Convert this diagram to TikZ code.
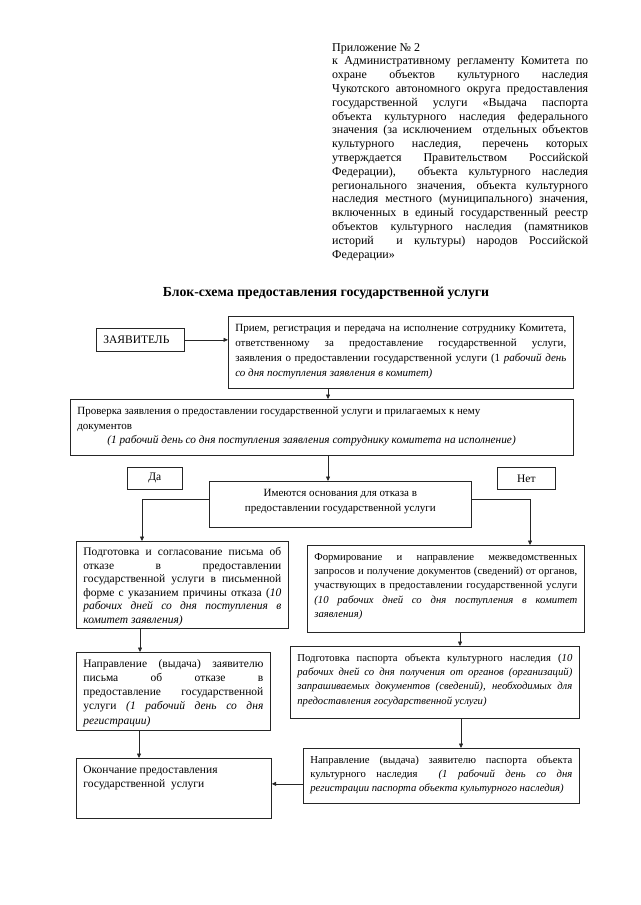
\documentclass[tikz,border=0pt]{standalone}
\usepackage{fontspec}
\setmainfont{Liberation Serif}
\usetikzlibrary{arrows.meta,calc}
% width, height, font size, baselineskip, text
\newcommand\bxt[5]{\parbox[c][#2pt][t]{#1pt}{\fontsize{#3}{#4}\selectfont\hyphenpenalty=10000\strut #5}}
\newcommand\jl[1]{\makebox[\linewidth][s]{#1}\par}
\tikzset{
  box/.style={draw=black!85, line width=0.7pt, inner xsep=7pt, inner ysep=5pt, anchor=north west},
  tag/.style={draw=black!85, line width=0.7pt, inner sep=0pt, anchor=north west, font=\fontsize{11.5}{13}\selectfont},
  arr/.style={draw=black!85, line width=0.7pt, -{Triangle[length=4.5pt,width=4pt]}}
}
\begin{document}
\begin{tikzpicture}[x=1pt,y=-1pt]
\useasboundingbox (0,0) rectangle (640,905);
\fill[white] (0,0) rectangle (640,905);
% header
\node[anchor=north west, inner sep=0pt] (hdr) at (332,43) {\parbox[t]{256pt}{\fontsize{12}{13.8}\selectfont\hyphenpenalty=10000
Приложение № 2\\
к Административному регламенту Комитета по\linebreak
охране объектов культурного наследия\linebreak
Чукотского автономного округа предоставления\linebreak
государственной услуги «Выдача паспорта\linebreak
объекта культурного наследия федерального\linebreak
значения (за исключением\ \ отдельных объектов\linebreak
культурного наследия, перечень которых\linebreak
утверждается Правительством Российской\linebreak
Федерации),\ \ объекта культурного наследия\linebreak
регионального значения, объекта культурного\linebreak
наследия местного (муниципального) значения,\linebreak
включенных в единый государственный реестр\linebreak
объектов культурного наследия (памятников\linebreak
историй\ \ и культуры) народов Российской\linebreak
Федерации»}};
% title
\node[inner sep=0pt, font=\fontsize{13.8}{16}\selectfont\bfseries] (title) at (326,293) {Блок-схема предоставления государственной услуги};
% boxes
\node[box] (b0) at (96,328) {\bxt{74}{13}{11.5}{14}{ЗАЯВИТЕЛЬ}};
\node[box] (b1) at (228,316) {\bxt{331}{62}{11}{15}{%
\jl{Прием, регистрация и передача на исполнение сотруднику Комитета,}
\jl{ответственному за предоставление государственной услуги,}
\jl{заявления о предоставлении государственной услуги (1 \textit{рабочий день}}
\textit{со дня поступления заявления в комитет)}}};
\node[box] (b2) at (70,399) {\bxt{489}{46}{11}{14.5}{\raggedright Проверка заявления о предоставлении государственной услуги и прилагаемых к нему\\
документов\\
\hspace*{30pt}{\fontsize{11.3}{14.5}\selectfont\textit{(1 рабочий день со дня поступления заявления сотруднику комитета на исполнение)}}}};
\node[tag, minimum width=55pt, minimum height=22pt] (da) at (127,467) {Да};
\node[tag, minimum width=58pt, minimum height=22pt] (net) at (497,467) {Нет};
\node[box] (dec) at (209,481) {\bxt{248}{36}{11}{14.5}{\centering Имеются основания для отказа в\\предоставлении государственной услуги}};
\node[box] (b3) at (76,541) {\bxt{198}{77}{11.5}{13.5}{%
\jl{Подготовка и согласование письма об}
\jl{отказе в предоставлении}
\jl{государственной услуги в письменной}
\jl{форме с указанием причины отказа (\textit{10}}
\jl{\textit{рабочих дней со дня поступления в}}
\textit{комитет заявления)}}};
\node[box] (b4) at (307,545) {\bxt{263}{77}{10.7}{14.3}{%
\jl{Формирование и направление межведомственных}
\jl{запросов и получение документов (сведений) от органов,}
\jl{участвующих в предоставлении государственной услуги}
\jl{\textit{(10 рабочих дней со дня поступления в комитет}}
\textit{заявления)}}};
\node[box] (b5) at (290,646) {\bxt{275}{62}{10.7}{14.3}{%
\jl{Подготовка паспорта объекта культурного наследия (\textit{10}}
\jl{\textit{рабочих дней со дня получения от органов (организаций)}}
\jl{\textit{запрашиваемых документов (сведений), необходимых для}}
\textit{предоставления государственной услуги)}}};
\node[box] (b6) at (76,652) {\bxt{180}{68}{11.5}{14.2}{%
\jl{Направление (выдача) заявителю}
\jl{письма об отказе в}
\jl{предоставление государственной}
\jl{услуги \textit{(1 рабочий день со дня}}
\textit{регистрации)}}};
\node[box] (b7) at (76,758) {\bxt{181}{50}{11.5}{14}{\raggedright Окончание предоставления\\
государственной\ \ услуги}};
\node[box] (b8) at (303,748) {\bxt{262}{45}{10.7}{14}{%
\jl{Направление (выдача) заявителю паспорта объекта}
\jl{культурного наследия\ \ \textit{(1 рабочий день со дня}}
\textit{регистрации паспорта объекта культурного наследия)}}};
% connectors
\draw[arr] (b0.east) -- (b0.east -| b1.west);
\coordinate (c1) at ([xshift=100pt]b1.south west);
\draw[arr] (c1) -- (c1 |- b2.north);
\draw[arr] (c1 |- b2.south) -- (c1 |- dec.north);
\coordinate (cl) at ([yshift=5pt]dec.west);
\coordinate (cr) at ([yshift=5pt]dec.east);
\coordinate (c3n) at ([xshift=66pt]b3.north west);
\coordinate (c4n) at ([xshift=223pt]b4.north west);
\draw[arr] (cl) -| (c3n);
\draw[arr] (cr) -| (c4n);
\coordinate (c4) at ([xshift=64pt]b3.south west);
\draw[arr] (c4) -- (c4 |- b6.north);
\coordinate (c5) at ([xshift=63pt]b6.south west);
\draw[arr] (c5) -- (c5 |- b7.north);
\coordinate (c2) at ([xshift=153pt]b4.south west);
\draw[arr] (c2) -- (c2 |- b5.north);
\coordinate (c6) at ([xshift=171pt]b5.south west);
\draw[arr] (c6) -- (c6 |- b8.north);
\coordinate (c7) at ([yshift=-8pt]b8.west);
\draw[arr] (c7) -- (c7 -| b7.east);
\end{tikzpicture}
\end{document}
